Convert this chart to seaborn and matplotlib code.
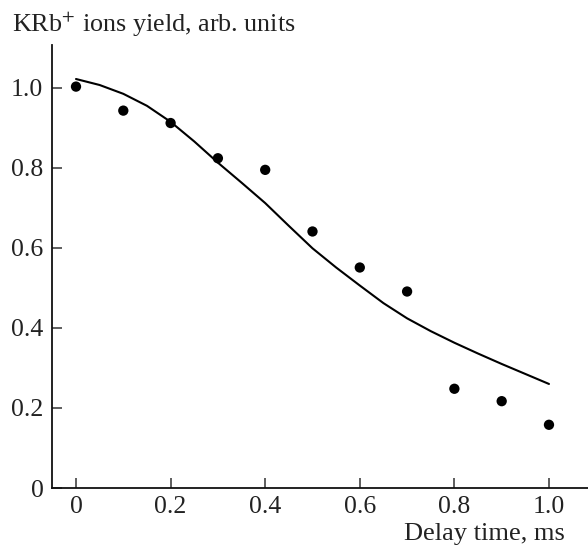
import pandas as pd
import seaborn as sns
import matplotlib.pyplot as plt

# measured KRb+ yield vs delay time
delay = [0.0, 0.1, 0.2, 0.3, 0.4, 0.5, 0.6, 0.7, 0.8, 0.9, 1.0]
yield_meas = [1.003, 0.943, 0.912, 0.824, 0.795, 0.641, 0.551, 0.491, 0.248, 0.217, 0.158]

# model curve
fit_t = [0.0, 0.05, 0.1, 0.15, 0.2, 0.25, 0.3, 0.35, 0.4, 0.45, 0.5,
         0.55, 0.6, 0.65, 0.7, 0.75, 0.8, 0.85, 0.9, 0.95, 1.0]
fit_y = [1.022, 1.007, 0.985, 0.955, 0.915, 0.866, 0.813, 0.763, 0.712, 0.655, 0.599,
         0.551, 0.506, 0.462, 0.424, 0.392, 0.363, 0.336, 0.310, 0.285, 0.260]

x_ticks = [0, 0.2, 0.4, 0.6, 0.8, 1.0]
x_ticklabels = ['0', '0.2', '0.4', '0.6', '0.8', '1.0']
y_ticks = [0, 0.2, 0.4, 0.6, 0.8, 1.0]
y_ticklabels = ['0', '0.2', '0.4', '0.6', '0.8', '1.0']

points_df = pd.DataFrame({'t': delay, 'y': yield_meas})
fit_df = pd.DataFrame({'t': fit_t, 'y': fit_y})

sns.set_style('ticks')
plt.rcParams['font.family'] = ['Liberation Serif', 'DejaVu Serif']
plt.rcParams['mathtext.fontset'] = 'stix'

fig = plt.figure(figsize=(5.88, 5.46), dpi=100)
ax = fig.add_axes([0.088, 0.1062, 0.912, 0.8114])

sns.lineplot(data=fit_df, x='t', y='y', color='black', linewidth=1.5, ax=ax)
sns.scatterplot(data=points_df, x='t', y='y', color='black', s=55,
                edgecolor='none', ax=ax, zorder=3)

ax.set_xlim(-0.0513, 1.0825)
ax.set_ylim(0, 1.107)
ax.set_xticks(x_ticks)
ax.set_xticklabels(x_ticklabels)
ax.set_yticks(y_ticks)
ax.set_yticklabels(y_ticklabels)
ax.tick_params(direction='in', length=7, width=1.1, labelsize=18.5, pad=6,
               color='#333333', labelcolor='#222222')

sns.despine(ax=ax)
for side in ['left', 'bottom']:
    ax.spines[side].set_linewidth(1.3)
    ax.spines[side].set_color('#111111')

ax.set_xlabel('')
ax.set_ylabel('')
fig.text(0.02, 0.941, 'KRb$^{+}$ ions yield, arb. units', fontsize=18.8,
         color='#222222', ha='left', va='baseline')
fig.text(0.961, 0.011, 'Delay time, ms', fontsize=19,
         color='#222222', ha='right', va='baseline')

plt.savefig('out.png', dpi=100)
